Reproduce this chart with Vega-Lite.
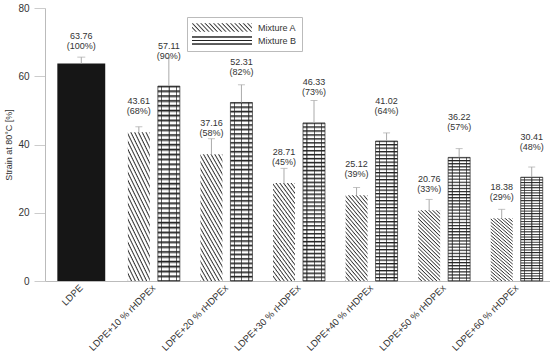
{
  "$schema": "https://vega.github.io/schema/vega-lite/v6.json",
  "autosize": {"type": "none"},
  "padding": {"left": 45, "top": 8, "right": 0, "bottom": 76},
  "width": 505,
  "height": 273,
  "background": "white",
  "config": {
    "font": "Liberation Sans",
    "view": {"stroke": null},
    "axis": {"labelColor": "#333", "titleColor": "#333", "domainColor": "#bbb", "tickColor": "#ccc", "grid": false}
  },
  "data": {
    "values": [
      {"group": "LDPE", "series": "LDPE", "mean": 63.76, "upper": 65.6, "label": "63.76\n(100%)"},
      {"group": "LDPE+10 % rHDPEx", "series": "Mixture A", "mean": 43.61, "upper": 45.2, "label": "43.61\n(68%)"},
      {"group": "LDPE+10 % rHDPEx", "series": "Mixture B", "mean": 57.11, "upper": 65.4, "label": "57.11\n(90%)"},
      {"group": "LDPE+20 % rHDPEx", "series": "Mixture A", "mean": 37.16, "upper": 41.7, "label": "37.16\n(58%)"},
      {"group": "LDPE+20 % rHDPEx", "series": "Mixture B", "mean": 52.31, "upper": 57.5, "label": "52.31\n(82%)"},
      {"group": "LDPE+30 % rHDPEx", "series": "Mixture A", "mean": 28.71, "upper": 33.0, "label": "28.71\n(45%)"},
      {"group": "LDPE+30 % rHDPEx", "series": "Mixture B", "mean": 46.33, "upper": 52.9, "label": "46.33\n(73%)"},
      {"group": "LDPE+40 % rHDPEx", "series": "Mixture A", "mean": 25.12, "upper": 27.4, "label": "25.12\n(39%)"},
      {"group": "LDPE+40 % rHDPEx", "series": "Mixture B", "mean": 41.02, "upper": 43.4, "label": "41.02\n(64%)"},
      {"group": "LDPE+50 % rHDPEx", "series": "Mixture A", "mean": 20.76, "upper": 23.9, "label": "20.76\n(33%)"},
      {"group": "LDPE+50 % rHDPEx", "series": "Mixture B", "mean": 36.22, "upper": 38.8, "label": "36.22\n(57%)"},
      {"group": "LDPE+60 % rHDPEx", "series": "Mixture A", "mean": 18.38, "upper": 21.0, "label": "18.38\n(29%)"},
      {"group": "LDPE+60 % rHDPEx", "series": "Mixture B", "mean": 30.41, "upper": 33.4, "label": "30.41\n(48%)"}
    ]
  },
  "encoding": {
    "x": {
      "field": "group", "type": "nominal", "sort": null,
      "scale": {"range": [0, 508], "paddingInner": 0, "paddingOuter": 0},
      "axis": {"title": null, "ticks": false, "labelAngle": -45, "labelAlign": "right", "labelBaseline": "middle", "labelPadding": 5, "labelFontSize": 9.5}
    }
  },
  "layer": [
    {
      "transform": [{"filter": "datum.series === 'LDPE'"}],
      "mark": {"type": "bar", "width": {"band": 0.66}, "fill": "#161616"},
      "encoding": {
        "y": {
          "field": "mean", "type": "quantitative",
          "scale": {"domain": [0, 80], "nice": false},
          "axis": {
            "title": "Strain at 80°C [%]", "titleFontSize": 9, "titleFontWeight": "normal",
            "titleX": -37, "titleY": 136.5, "titleAngle": -90, "titleBaseline": "middle", "titleAlign": "center",
            "values": [0, 10, 20, 30, 40, 50, 60, 70, 80],
            "labelExpr": "datum.value % 20 === 0 ? datum.label : ''",
            "tickSize": 11, "labelPadding": 5, "labelFontSize": 10
          }
        }
      }
    },
    {
      "transform": [{"filter": "datum.series !== 'LDPE'"}],
      "mark": {"type": "bar"},
      "encoding": {
        "xOffset": {"field": "series", "type": "nominal", "scale": {"domain": ["Mixture A", "Mixture B"], "paddingInner": 0.267, "paddingOuter": 0.343}},
        "y": {"field": "mean", "type": "quantitative"},
        "fill": {
          "condition": [
            {"test": "datum.series === 'Mixture A'", "value": {"gradient": "linear", "x1": 1, "y1": 0, "x2": 0.6383, "y2": 1.1935, "stops": [
              {"offset": 0, "color": "#333"}, {"offset": 0.014, "color": "#fff"}, {"offset": 0.03, "color": "#fff"},
              {"offset": 0.04, "color": "#333"}, {"offset": 0.054, "color": "#fff"}, {"offset": 0.07, "color": "#fff"},
              {"offset": 0.08, "color": "#333"}, {"offset": 0.094, "color": "#fff"}, {"offset": 0.11, "color": "#fff"},
              {"offset": 0.12, "color": "#333"}, {"offset": 0.134, "color": "#fff"}, {"offset": 0.15, "color": "#fff"},
              {"offset": 0.16, "color": "#333"}, {"offset": 0.174, "color": "#fff"}, {"offset": 0.19, "color": "#fff"},
              {"offset": 0.2, "color": "#333"}, {"offset": 0.214, "color": "#fff"}, {"offset": 0.23, "color": "#fff"},
              {"offset": 0.24, "color": "#333"}, {"offset": 0.254, "color": "#fff"}, {"offset": 0.27, "color": "#fff"},
              {"offset": 0.28, "color": "#333"}, {"offset": 0.294, "color": "#fff"}, {"offset": 0.31, "color": "#fff"},
              {"offset": 0.32, "color": "#333"}, {"offset": 0.334, "color": "#fff"}, {"offset": 0.35, "color": "#fff"},
              {"offset": 0.36, "color": "#333"}, {"offset": 0.374, "color": "#fff"}, {"offset": 0.39, "color": "#fff"},
              {"offset": 0.4, "color": "#333"}, {"offset": 0.414, "color": "#fff"}, {"offset": 0.43, "color": "#fff"},
              {"offset": 0.44, "color": "#333"}, {"offset": 0.454, "color": "#fff"}, {"offset": 0.47, "color": "#fff"},
              {"offset": 0.48, "color": "#333"}, {"offset": 0.494, "color": "#fff"}, {"offset": 0.51, "color": "#fff"},
              {"offset": 0.52, "color": "#333"}, {"offset": 0.534, "color": "#fff"}, {"offset": 0.55, "color": "#fff"},
              {"offset": 0.56, "color": "#333"}, {"offset": 0.574, "color": "#fff"}, {"offset": 0.59, "color": "#fff"},
              {"offset": 0.6, "color": "#333"}, {"offset": 0.614, "color": "#fff"}, {"offset": 0.63, "color": "#fff"},
              {"offset": 0.64, "color": "#333"}, {"offset": 0.654, "color": "#fff"}, {"offset": 0.67, "color": "#fff"},
              {"offset": 0.68, "color": "#333"}, {"offset": 0.694, "color": "#fff"}, {"offset": 0.71, "color": "#fff"},
              {"offset": 0.72, "color": "#333"}, {"offset": 0.734, "color": "#fff"}, {"offset": 0.75, "color": "#fff"},
              {"offset": 0.76, "color": "#333"}, {"offset": 0.774, "color": "#fff"}, {"offset": 0.79, "color": "#fff"},
              {"offset": 0.8, "color": "#333"}, {"offset": 0.814, "color": "#fff"}, {"offset": 0.83, "color": "#fff"},
              {"offset": 0.84, "color": "#333"}, {"offset": 0.854, "color": "#fff"}, {"offset": 0.87, "color": "#fff"},
              {"offset": 0.88, "color": "#333"}, {"offset": 0.894, "color": "#fff"}, {"offset": 0.91, "color": "#fff"},
              {"offset": 0.92, "color": "#333"}, {"offset": 0.934, "color": "#fff"}, {"offset": 0.95, "color": "#fff"},
              {"offset": 0.96, "color": "#333"}, {"offset": 0.974, "color": "#fff"}, {"offset": 0.99, "color": "#fff"},
              {"offset": 1, "color": "#333"}
            ]}},
            {"test": "datum.series === 'Mixture B'", "value": {"gradient": "linear", "x1": 0, "y1": 0, "x2": 0, "y2": 1, "stops": [
              {"offset": 0, "color": "#222"}, {"offset": 0.012, "color": "#fff"}, {"offset": 0.018, "color": "#fff"},
              {"offset": 0.025, "color": "#222"}, {"offset": 0.037, "color": "#fff"}, {"offset": 0.043, "color": "#fff"},
              {"offset": 0.05, "color": "#222"}, {"offset": 0.062, "color": "#fff"}, {"offset": 0.068, "color": "#fff"},
              {"offset": 0.075, "color": "#222"}, {"offset": 0.087, "color": "#fff"}, {"offset": 0.093, "color": "#fff"},
              {"offset": 0.1, "color": "#222"}, {"offset": 0.112, "color": "#fff"}, {"offset": 0.118, "color": "#fff"},
              {"offset": 0.125, "color": "#222"}, {"offset": 0.137, "color": "#fff"}, {"offset": 0.143, "color": "#fff"},
              {"offset": 0.15, "color": "#222"}, {"offset": 0.162, "color": "#fff"}, {"offset": 0.168, "color": "#fff"},
              {"offset": 0.175, "color": "#222"}, {"offset": 0.187, "color": "#fff"}, {"offset": 0.193, "color": "#fff"},
              {"offset": 0.2, "color": "#222"}, {"offset": 0.212, "color": "#fff"}, {"offset": 0.218, "color": "#fff"},
              {"offset": 0.225, "color": "#222"}, {"offset": 0.237, "color": "#fff"}, {"offset": 0.243, "color": "#fff"},
              {"offset": 0.25, "color": "#222"}, {"offset": 0.262, "color": "#fff"}, {"offset": 0.268, "color": "#fff"},
              {"offset": 0.275, "color": "#222"}, {"offset": 0.287, "color": "#fff"}, {"offset": 0.293, "color": "#fff"},
              {"offset": 0.3, "color": "#222"}, {"offset": 0.312, "color": "#fff"}, {"offset": 0.318, "color": "#fff"},
              {"offset": 0.325, "color": "#222"}, {"offset": 0.337, "color": "#fff"}, {"offset": 0.343, "color": "#fff"},
              {"offset": 0.35, "color": "#222"}, {"offset": 0.362, "color": "#fff"}, {"offset": 0.368, "color": "#fff"},
              {"offset": 0.375, "color": "#222"}, {"offset": 0.387, "color": "#fff"}, {"offset": 0.393, "color": "#fff"},
              {"offset": 0.4, "color": "#222"}, {"offset": 0.412, "color": "#fff"}, {"offset": 0.418, "color": "#fff"},
              {"offset": 0.425, "color": "#222"}, {"offset": 0.437, "color": "#fff"}, {"offset": 0.443, "color": "#fff"},
              {"offset": 0.45, "color": "#222"}, {"offset": 0.462, "color": "#fff"}, {"offset": 0.468, "color": "#fff"},
              {"offset": 0.475, "color": "#222"}, {"offset": 0.487, "color": "#fff"}, {"offset": 0.493, "color": "#fff"},
              {"offset": 0.5, "color": "#222"}, {"offset": 0.512, "color": "#fff"}, {"offset": 0.518, "color": "#fff"},
              {"offset": 0.525, "color": "#222"}, {"offset": 0.537, "color": "#fff"}, {"offset": 0.543, "color": "#fff"},
              {"offset": 0.55, "color": "#222"}, {"offset": 0.562, "color": "#fff"}, {"offset": 0.568, "color": "#fff"},
              {"offset": 0.575, "color": "#222"}, {"offset": 0.587, "color": "#fff"}, {"offset": 0.593, "color": "#fff"},
              {"offset": 0.6, "color": "#222"}, {"offset": 0.612, "color": "#fff"}, {"offset": 0.618, "color": "#fff"},
              {"offset": 0.625, "color": "#222"}, {"offset": 0.637, "color": "#fff"}, {"offset": 0.643, "color": "#fff"},
              {"offset": 0.65, "color": "#222"}, {"offset": 0.662, "color": "#fff"}, {"offset": 0.668, "color": "#fff"},
              {"offset": 0.675, "color": "#222"}, {"offset": 0.687, "color": "#fff"}, {"offset": 0.693, "color": "#fff"},
              {"offset": 0.7, "color": "#222"}, {"offset": 0.712, "color": "#fff"}, {"offset": 0.718, "color": "#fff"},
              {"offset": 0.725, "color": "#222"}, {"offset": 0.737, "color": "#fff"}, {"offset": 0.743, "color": "#fff"},
              {"offset": 0.75, "color": "#222"}, {"offset": 0.762, "color": "#fff"}, {"offset": 0.768, "color": "#fff"},
              {"offset": 0.775, "color": "#222"}, {"offset": 0.787, "color": "#fff"}, {"offset": 0.793, "color": "#fff"},
              {"offset": 0.8, "color": "#222"}, {"offset": 0.812, "color": "#fff"}, {"offset": 0.818, "color": "#fff"},
              {"offset": 0.825, "color": "#222"}, {"offset": 0.837, "color": "#fff"}, {"offset": 0.843, "color": "#fff"},
              {"offset": 0.85, "color": "#222"}, {"offset": 0.862, "color": "#fff"}, {"offset": 0.868, "color": "#fff"},
              {"offset": 0.875, "color": "#222"}, {"offset": 0.887, "color": "#fff"}, {"offset": 0.893, "color": "#fff"},
              {"offset": 0.9, "color": "#222"}, {"offset": 0.912, "color": "#fff"}, {"offset": 0.918, "color": "#fff"},
              {"offset": 0.925, "color": "#222"}, {"offset": 0.937, "color": "#fff"}, {"offset": 0.943, "color": "#fff"},
              {"offset": 0.95, "color": "#222"}, {"offset": 0.962, "color": "#fff"}, {"offset": 0.968, "color": "#fff"},
              {"offset": 0.975, "color": "#222"}, {"offset": 0.987, "color": "#fff"}, {"offset": 0.993, "color": "#fff"},
              {"offset": 1, "color": "#222"}
            ]}}
          ],
          "field": "series", "type": "nominal",
          "scale": {"domain": ["Mixture A", "Mixture B"], "range": [
            {"expr": "{gradient:'linear',x1:1,y1:0,x2:-0.113,y2:0.148,stops:[{offset:0,color:'#333'},{offset:0.022,color:'#fff'},{offset:0.047,color:'#fff'},{offset:0.0625,color:'#333'},{offset:0.0845,color:'#fff'},{offset:0.1095,color:'#fff'},{offset:0.125,color:'#333'},{offset:0.147,color:'#fff'},{offset:0.172,color:'#fff'},{offset:0.1875,color:'#333'},{offset:0.2095,color:'#fff'},{offset:0.2345,color:'#fff'},{offset:0.25,color:'#333'},{offset:0.272,color:'#fff'},{offset:0.297,color:'#fff'},{offset:0.3125,color:'#333'},{offset:0.3345,color:'#fff'},{offset:0.3595,color:'#fff'},{offset:0.375,color:'#333'},{offset:0.397,color:'#fff'},{offset:0.422,color:'#fff'},{offset:0.4375,color:'#333'},{offset:0.4595,color:'#fff'},{offset:0.4845,color:'#fff'},{offset:0.5,color:'#333'},{offset:0.522,color:'#fff'},{offset:0.547,color:'#fff'},{offset:0.5625,color:'#333'},{offset:0.5845,color:'#fff'},{offset:0.6095,color:'#fff'},{offset:0.625,color:'#333'},{offset:0.647,color:'#fff'},{offset:0.672,color:'#fff'},{offset:0.6875,color:'#333'},{offset:0.7095,color:'#fff'},{offset:0.7345,color:'#fff'},{offset:0.75,color:'#333'},{offset:0.772,color:'#fff'},{offset:0.797,color:'#fff'},{offset:0.8125,color:'#333'},{offset:0.8345,color:'#fff'},{offset:0.8595,color:'#fff'},{offset:0.875,color:'#333'},{offset:0.897,color:'#fff'},{offset:0.922,color:'#fff'},{offset:0.9375,color:'#333'},{offset:0.9595,color:'#fff'},{offset:0.9845,color:'#fff'},{offset:1,color:'#333'}]}"},
            {"expr": "{gradient:'linear',x1:0,y1:0,x2:0,y2:1,stops:[{offset:0,color:'#222'},{offset:0.12,color:'#222'},{offset:0.2,color:'#fff'},{offset:0.4,color:'#fff'},{offset:0.46,color:'#222'},{offset:0.54,color:'#222'},{offset:0.6,color:'#fff'},{offset:0.8,color:'#fff'},{offset:0.88,color:'#222'},{offset:1,color:'#222'}]}"}
          ]},
          "legend": {
            "title": null, "orient": "none", "legendX": 142, "legendY": 9,
            "symbolType": "M-1,-0.14H1V0.14H-1Z", "symbolSize": 3600, "clipHeight": 11,
            "symbolStrokeWidth": 0,
            "rowPadding": 2, "padding": 5, "strokeColor": "#bbb", "fillColor": "white",
            "labelOffset": 6, "labelFontSize": 9, "labelColor": "#333", "labelFont": "Liberation Sans"
          }
        }
      }
    },
    {
      "transform": [{"filter": "datum.series === 'Mixture B'"}],
      "mark": {"type": "bar", "stroke": "#222", "strokeWidth": 0.7, "fill": {"gradient": "linear", "x1": 0, "y1": 0, "x2": 1, "y2": 0, "stops": [
        {"offset": 0, "color": "rgba(34,34,34,0)"}, {"offset": 0.15, "color": "rgba(34,34,34,0)"},
        {"offset": 0.16, "color": "rgba(34,34,34,0.7)"}, {"offset": 0.2, "color": "rgba(34,34,34,0.7)"},
        {"offset": 0.21, "color": "rgba(34,34,34,0)"}, {"offset": 0.48, "color": "rgba(34,34,34,0)"},
        {"offset": 0.49, "color": "rgba(34,34,34,0.7)"}, {"offset": 0.53, "color": "rgba(34,34,34,0.7)"},
        {"offset": 0.54, "color": "rgba(34,34,34,0)"}, {"offset": 0.81, "color": "rgba(34,34,34,0)"},
        {"offset": 0.82, "color": "rgba(34,34,34,0.7)"}, {"offset": 0.86, "color": "rgba(34,34,34,0.7)"},
        {"offset": 0.87, "color": "rgba(34,34,34,0)"}, {"offset": 1, "color": "rgba(34,34,34,0)"}
      ]}},
      "encoding": {
        "xOffset": {"field": "series", "type": "nominal", "scale": {"domain": ["Mixture A", "Mixture B"]}},
        "y": {"field": "mean", "type": "quantitative"}
      }
    },
    {
      "transform": [{"filter": "datum.series === 'LDPE'"}],
      "mark": {"type": "rule", "color": "#aaa", "strokeWidth": 1},
      "encoding": {"y": {"field": "mean", "type": "quantitative"}, "y2": {"field": "upper"}}
    },
    {
      "transform": [{"filter": "datum.series === 'LDPE'"}],
      "mark": {"type": "tick", "orient": "horizontal", "color": "#aaa", "size": 8, "thickness": 1},
      "encoding": {"y": {"field": "upper", "type": "quantitative"}}
    },
    {
      "transform": [{"filter": "datum.series !== 'LDPE'"}],
      "mark": {"type": "rule", "color": "#aaa", "strokeWidth": 1},
      "encoding": {
        "xOffset": {"field": "series", "type": "nominal", "scale": {"domain": ["Mixture A", "Mixture B"]}},
        "y": {"field": "mean", "type": "quantitative"}, "y2": {"field": "upper"}
      }
    },
    {
      "transform": [{"filter": "datum.series !== 'LDPE'"}],
      "mark": {"type": "tick", "orient": "horizontal", "color": "#aaa", "size": 7, "thickness": 1},
      "encoding": {
        "xOffset": {"field": "series", "type": "nominal", "scale": {"domain": ["Mixture A", "Mixture B"]}},
        "y": {"field": "upper", "type": "quantitative"}
      }
    },
    {
      "transform": [{"filter": "datum.series === 'LDPE'"}],
      "mark": {"type": "text", "lineBreak": "\n", "baseline": "bottom", "dy": -22.5, "fontSize": 9, "lineHeight": 10, "color": "#333"},
      "encoding": {"y": {"field": "mean", "type": "quantitative"}, "text": {"field": "label"}}
    },
    {
      "transform": [{"filter": "datum.series === 'Mixture A'"}],
      "mark": {"type": "text", "lineBreak": "\n", "baseline": "bottom", "dy": -26.5, "fontSize": 9, "lineHeight": 10, "color": "#333"},
      "encoding": {
        "xOffset": {"field": "series", "type": "nominal", "scale": {"domain": ["Mixture A", "Mixture B"]}},
        "y": {"field": "mean", "type": "quantitative"}, "text": {"field": "label"}
      }
    },
    {
      "transform": [{"filter": "datum.series === 'Mixture B'"}],
      "mark": {"type": "text", "lineBreak": "\n", "baseline": "bottom", "dy": -35.5, "fontSize": 9, "lineHeight": 10, "color": "#333"},
      "encoding": {
        "xOffset": {"field": "series", "type": "nominal", "scale": {"domain": ["Mixture A", "Mixture B"]}},
        "y": {"field": "mean", "type": "quantitative"}, "text": {"field": "label"}
      }
    }
  ]
}
